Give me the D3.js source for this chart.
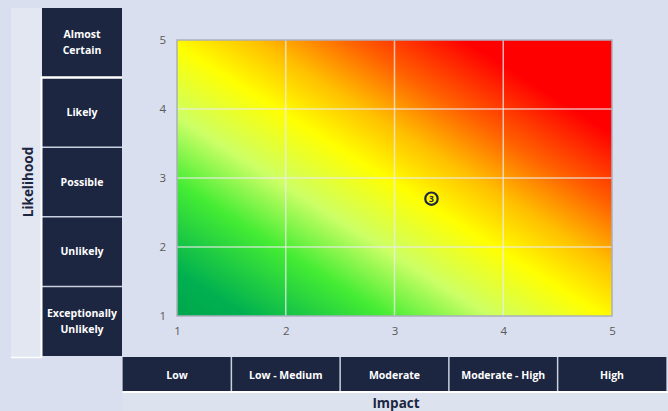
<!DOCTYPE html>
<html>
<head>
<meta charset="utf-8">
<script src="https://cdn.jsdelivr.net/npm/d3@7"></script>
<style>
  html, body { margin: 0; padding: 0; background: #d9dfee; }
  svg { display: block; font-family: "Open Sans", "Noto Sans", sans-serif; }
</style>
</head>
<body>
<svg id="chart" width="668" height="411"></svg>
<script>
// Rating scales of the risk matrix
const likelihoodLabels = ["Exceptionally\nUnlikely", "Unlikely", "Possible", "Likely", "Almost\nCertain"];
const impactLabels = ["Low", "Low - Medium", "Moderate", "Moderate - High", "High"];
const xTicks = [1, 2, 3, 4, 5];
const yTicks = [1, 2, 3, 4, 5];
const gridX = [2, 3, 4];
const gridY = [2, 3, 4];

// Plotted risks (id, impact, likelihood)
const riskIds = [3];
const riskImpact = [3.34];
const riskLikelihood = [2.7];

const W = 668, H = 411;
const svg = d3.select("#chart");
const navy = "#1c2641";

const x = d3.scaleLinear().domain([1, 5]).range([177, 612]);
const y = d3.scaleLinear().domain([1, 5]).range([316, 40]);

// Green → yellow → red heat gradient across the plot
const defs = svg.append("defs");
const grad = defs.append("linearGradient")
  .attr("id", "heat")
  .attr("x1", 0).attr("y1", 1).attr("x2", 1).attr("y2", 0);
[
  [0.00, "#00a64c"],
  [0.08, "#00b050"],
  [0.24, "#44ec33"],
  [0.36, "#ccff66"],
  [0.49, "#ffff00"],
  [0.59, "#ffc000"],
  [0.70, "#ff6000"],
  [0.83, "#ff0000"],
  [1.00, "#ff0000"]
].forEach(([o, c]) => grad.append("stop").attr("offset", o).attr("stop-color", c));

// Likelihood side panel
svg.append("rect").attr("x", 11).attr("y", 8).attr("width", 31).attr("height", 349)
  .attr("fill", "#e3e7f2");
svg.append("text")
  .attr("transform", "translate(28,182) rotate(-90)")
  .attr("text-anchor", "middle").attr("dominant-baseline", "central")
  .attr("font-size", 13.5).attr("font-weight", 700).attr("fill", navy)
  .text("Likelihood");

const band = d3.scaleBand().domain(likelihoodLabels.slice().reverse()).range([8, 356]);
const rows = svg.append("g").selectAll("g").data(likelihoodLabels).join("g");
rows.append("rect")
  .attr("x", 42).attr("y", d => band(d))
  .attr("width", 80).attr("height", band.bandwidth())
  .attr("fill", navy);
rows.append("text")
  .attr("x", 82)
  .attr("text-anchor", "middle")
  .attr("font-size", 10.5).attr("font-weight", 700).attr("fill", "#ffffff")
  .each(function (d) {
    const lines = d.split("\n");
    const cy = band(d) + band.bandwidth() / 2;
    lines.forEach((ln, i) => {
      d3.select(this).append("tspan")
        .attr("x", 82)
        .attr("y", cy + (i - (lines.length - 1) / 2) * 16)
        .attr("dy", "0.35em")
        .text(ln);
    });
  });
// Separators between likelihood rows
svg.append("g").selectAll("line").data(likelihoodLabels.slice(0, 3)).join("line")
  .attr("x1", 42).attr("x2", 122)
  .attr("y1", d => band(d)).attr("y2", d => band(d))
  .attr("stroke", "#c9d0df").attr("stroke-width", 1.5);
svg.append("line").attr("x1", 41).attr("x2", 122)
  .attr("y1", band(likelihoodLabels[3])).attr("y2", band(likelihoodLabels[3]))
  .attr("stroke", "#ffffff").attr("stroke-width", 2.5);
svg.append("line").attr("x1", 41.5).attr("x2", 41.5)
  .attr("y1", band(likelihoodLabels[3])).attr("y2", 357)
  .attr("stroke", "#ffffff").attr("stroke-width", 2);
svg.append("line").attr("x1", 11).attr("x2", 42)
  .attr("y1", 357.5).attr("y2", 357.5)
  .attr("stroke", "#ffffff").attr("stroke-width", 1.5);

// Impact bottom panel
const cols = svg.append("g").selectAll("g").data(impactLabels).join("g");
cols.append("rect")
  .attr("x", (d, i) => x(i + 0.5)).attr("y", 357)
  .attr("width", (d, i) => x(i + 1.5) - x(i + 0.5)).attr("height", 34)
  .attr("fill", navy);
cols.append("text")
  .attr("x", (d, i) => x(i + 1)).attr("y", 375)
  .attr("dominant-baseline", "central")
  .attr("text-anchor", "middle")
  .attr("font-size", 10.5).attr("font-weight", 700).attr("fill", "#ffffff")
  .text(d => d);
svg.append("g").selectAll("line").data(impactLabels.slice(1)).join("line")
  .attr("x1", (d, i) => x(i + 1.5)).attr("x2", (d, i) => x(i + 1.5))
  .attr("y1", 357).attr("y2", 391)
  .attr("stroke", "#c9d0df").attr("stroke-width", 1.5);
svg.append("rect").attr("x", x(0.5)).attr("y", 391).attr("width", W - x(0.5)).attr("height", 2)
  .attr("fill", "#ffffff");
svg.append("rect").attr("x", x(0.5)).attr("y", 393).attr("width", W - x(0.5)).attr("height", 18)
  .attr("fill", "#dde2ef");
svg.append("text")
  .attr("x", 396).attr("y", 403)
  .attr("text-anchor", "middle").attr("dominant-baseline", "central")
  .attr("font-size", 13.5).attr("font-weight", 700).attr("fill", navy)
  .text("Impact");

// Plot area
svg.append("rect")
  .attr("x", x(1)).attr("y", y(5))
  .attr("width", x(5) - x(1)).attr("height", y(1) - y(5))
  .attr("fill", "url(#heat)");

// Grid
svg.append("g").selectAll("line").data(gridX).join("line")
  .attr("x1", d => x(d)).attr("x2", d => x(d))
  .attr("y1", y(5)).attr("y2", y(1))
  .attr("stroke", "#ececec").attr("stroke-opacity", 0.75).attr("stroke-width", 1.5);
svg.append("g").selectAll("line").data(gridY).join("line")
  .attr("x1", x(1)).attr("x2", x(5))
  .attr("y1", d => y(d)).attr("y2", d => y(d))
  .attr("stroke", "#ececec").attr("stroke-opacity", 0.75).attr("stroke-width", 1.5);

svg.append("rect")
  .attr("x", x(1)).attr("y", y(5))
  .attr("width", x(5) - x(1)).attr("height", y(1) - y(5))
  .attr("fill", "none").attr("stroke", "#aab0bd").attr("stroke-width", 1.5);

// Axes
const xAxis = svg.append("g").attr("transform", `translate(0,${y(1)})`)
  .call(d3.axisBottom(x).tickValues(xTicks).tickFormat(d3.format("d")).tickSize(0).tickPadding(11));
const yAxis = svg.append("g").attr("transform", `translate(${x(1)},0)`)
  .call(d3.axisLeft(y).tickValues(yTicks).tickFormat(d3.format("d")).tickSize(0).tickPadding(11));
[xAxis, yAxis].forEach(a => {
  a.select(".domain").remove();
  a.selectAll("text")
    .attr("font-family", "\"Open Sans\", sans-serif")
    .attr("font-size", 11.5).attr("fill", "#595959");
});

// Risk markers
const risks = riskIds.map((id, i) => ({ id, impact: riskImpact[i], likelihood: riskLikelihood[i] }));
const mk = svg.append("g").selectAll("g").data(risks).join("g")
  .attr("transform", d => `translate(${x(d.impact)},${y(d.likelihood)})`);
mk.append("circle").attr("r", 6.2).attr("fill", "none")
  .attr("stroke", navy).attr("stroke-width", 2.2);
mk.append("text")
  .attr("text-anchor", "middle").attr("dominant-baseline", "central")
  .attr("font-size", 8.5).attr("font-weight", 700).attr("fill", navy)
  .text(d => d.id);
</script>
</body>
</html>
